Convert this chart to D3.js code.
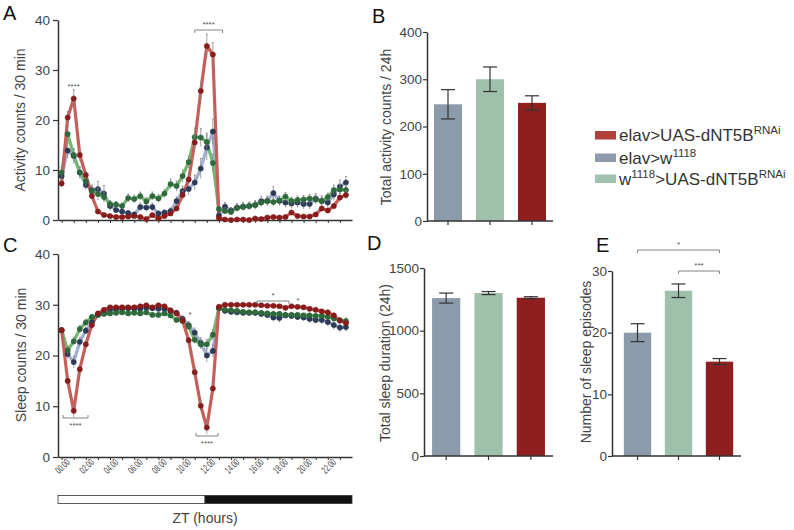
<!DOCTYPE html>
<html><head><meta charset="utf-8">
<script src="https://cdn.jsdelivr.net/npm/d3@7"></script>
<style>
body{margin:0;background:#fff;}
text{font-family:Arial,"Liberation Sans",sans-serif;}
</style>
</head><body>
<svg id="c" width="794" height="530"></svg>
<script>
// ---------------- DATA ----------------
const genotypes = ["elav>UAS-dNT5B", "elav>w1118", "w1118>UAS-dNT5B"];
const timeLabels = ["00:00","02:00","04:00","06:00","08:00","10:00","12:00","14:00","16:00","18:00","20:00","22:00"];
const activityTicks = [0,10,20,30,40];
const sleepTicks = [0,10,20,30,40];

// Activity counts / 30 min (48 half-hour bins)
const actRed = [7.3,20.5,24.3,13.0,9.0,4.8,1.7,1.0,0.8,0.6,0.6,0.7,0.8,0.6,0.2,1.0,0.3,0.8,1.3,2.3,5.0,8.1,15.5,25.8,34.8,33.1,0.4,0.1,0.0,0.1,0.1,0.0,0.3,0.2,0.5,0.6,0.5,0.6,1.5,0.8,0.7,0.7,1.1,2.3,1.9,2.8,4.5,5.0];
const actBlue = [8.8,13.9,12.8,9.5,7.0,6.0,6.2,5.3,2.8,2.0,1.7,1.4,1.1,2.6,2.5,2.6,1.3,1.5,1.8,3.8,5.8,6.2,7.5,10.3,14.5,17.7,0.9,2.7,1.9,2.5,2.7,2.8,3.0,3.8,3.8,5.4,3.8,3.5,3.3,3.5,3.2,3.2,4.3,3.8,3.5,5.1,6.7,7.5];
const actGreen = [9.5,17.2,13.0,9.5,7.8,5.8,5.2,4.6,3.2,3.1,2.8,4.4,4.2,4.8,3.7,4.8,4.3,5.3,7.2,6.8,8.8,11.6,16.6,16.5,15.6,11.4,2.2,1.8,1.6,2.4,2.6,2.8,3.0,3.5,3.8,3.6,3.9,4.7,3.8,4.0,4.1,4.3,4.1,3.8,4.6,6.0,6.1,6.0];
const actRedErr = [0.8,1.2,1.8,1.2,0.8,0.5,0.3,0.2,0.2,0.2,0.2,0.2,0.2,0.2,0.1,0.3,0.2,0.3,0.4,0.5,0.8,1.0,1.5,1.8,2.4,2.4,0.2,0.1,0.1,0.1,0.1,0.1,0.2,0.2,0.2,0.2,0.2,0.2,0.4,0.2,0.2,0.2,0.3,0.5,0.4,0.5,0.8,0.8];
const actBlueErr = [1.0,1.5,1.5,1.2,1.0,1.0,1.5,1.6,1.0,0.6,0.5,0.5,0.5,0.8,0.8,0.8,0.5,0.5,0.6,0.8,1.0,1.2,1.5,2.0,2.5,2.5,0.4,0.8,0.6,0.8,0.8,0.8,0.9,1.0,1.0,1.3,1.0,1.0,1.0,1.0,1.0,1.0,1.0,1.0,1.0,1.2,1.3,1.2];
const actGreenErr = [1.0,1.5,1.2,1.0,1.0,1.0,1.2,1.0,0.7,0.6,0.6,0.8,0.8,0.8,0.8,0.8,0.8,0.8,1.0,1.0,1.2,1.2,1.8,1.8,1.8,1.8,0.5,0.6,0.6,0.6,0.6,0.6,0.7,0.8,0.8,0.8,0.8,0.8,0.8,0.8,0.8,0.8,0.8,0.8,0.8,1.0,1.0,1.0];

// Sleep counts / 30 min
const slpRed = [25.0,15.0,9.1,17.3,22.2,26.0,28.3,29.0,29.5,29.5,29.5,29.5,29.5,29.7,29.9,29.5,29.9,29.7,28.9,28.3,26.9,23.0,16.7,10.1,5.8,13.5,29.6,30.0,30.0,30.0,30.0,30.0,30.0,29.9,29.8,29.8,29.7,29.4,29.7,29.6,29.5,29.2,29.0,28.7,28.5,27.9,26.9,26.4];
const slpBlue = [25.0,20.3,18.7,22.7,24.9,26.6,28.0,28.4,29.0,29.1,29.2,29.3,29.2,29.2,29.4,29.3,29.2,29.2,28.8,28.4,27.2,26.0,24.5,22.5,20.0,20.9,29.4,28.8,28.6,28.5,28.4,28.4,28.4,28.2,28.0,27.5,27.4,27.9,27.8,27.6,27.5,27.2,27.0,27.0,26.6,26.0,25.5,25.6];
const slpGreen = [25.0,21.0,22.8,25.2,26.5,27.6,28.0,28.2,28.3,28.4,28.5,28.3,28.4,28.3,28.5,28.0,28.0,28.3,27.9,27.0,26.8,25.7,23.1,22.2,22.2,24.1,29.3,29.0,28.9,28.8,28.6,28.5,28.5,28.4,28.3,28.2,28.2,28.0,28.0,28.0,27.9,27.9,27.8,27.8,27.6,27.3,26.9,26.8];
const slpRedErr = [0.5,0.8,1.2,0.8,0.6,0.4,0.3,0.3,0.2,0.2,0.2,0.2,0.2,0.2,0.2,0.2,0.2,0.2,0.3,0.3,0.4,0.6,0.9,1.0,1.2,1.0,0.3,0.2,0.2,0.2,0.2,0.2,0.2,0.2,0.2,0.2,0.2,0.3,0.2,0.2,0.2,0.3,0.3,0.3,0.3,0.4,0.5,0.5];
const slpBlueErr = [0.5,0.9,1.2,0.9,0.7,0.6,0.5,0.5,0.4,0.4,0.4,0.4,0.4,0.4,0.4,0.4,0.4,0.4,0.5,0.5,0.6,0.7,0.9,1.0,1.3,1.2,0.5,0.6,0.5,0.5,0.5,0.5,0.6,0.6,0.6,0.8,0.9,0.6,0.6,0.6,0.7,0.7,0.7,0.8,0.8,0.9,0.9,0.9];
const slpGreenErr = [0.5,0.8,0.8,0.7,0.6,0.5,0.4,0.4,0.4,0.4,0.4,0.4,0.4,0.4,0.4,0.4,0.4,0.4,0.5,0.5,0.6,0.7,0.8,0.9,1.0,1.0,0.5,0.5,0.4,0.4,0.4,0.4,0.4,0.4,0.4,0.4,0.4,0.4,0.4,0.4,0.4,0.4,0.4,0.4,0.5,0.5,0.6,0.6];

// Bar panels: order = elav>w1118, w1118>UAS-dNT5B, elav>UAS-dNT5B
const barGroups = ["elav>w1118", "w1118>UAS-dNT5B", "elav>UAS-dNT5B"];
const totalActivity = [247, 300, 250];
const totalActivityErr = [31, 26, 15];
const totalSleep = [1260, 1300, 1263];
const totalSleepErr = [40, 12, 8];
const sleepEpisodes = [20.0, 26.8, 15.3];
const sleepEpisodesErr = [1.45, 1.1, 0.5];
const activityBarTicks = [0,100,200,300,400];
const sleepBarTicks = [0,500,1000,1500];
const episodeTicks = [0,10,20,30];
const lightDark = [{from:0,to:12,fill:"#ffffff"},{from:12,to:24,fill:"#111111"}];

// ---------------- STYLE ----------------
const barColor = {"elav>w1118":"#8c9bab","w1118>UAS-dNT5B":"#9fc0ab","elav>UAS-dNT5B":"#8f1f1f"};
const lineStyle = {
  blue:{line:"#a2aed2", dot:"#2c3b58"},
  green:{line:"#72b872", dot:"#2f6b3c"},
  red:{line:"#c65f59", dot:"#8c1b1b"}
};
const axisColor = "#333", textColor = "#444";
const svg = d3.select("#c");
const FONT = "Arial, Liberation Sans, sans-serif";

function yAxis(scale, x0, ticks, size, pad, fs) {
  const ax = d3.axisLeft(scale).tickValues(ticks).tickFormat(d3.format("d"))
    .tickSize(size).tickSizeOuter(0).tickPadding(pad);
  const g = svg.append("g").attr("transform", `translate(${x0},0)`).call(ax)
    .attr("font-family", FONT).attr("font-size", fs);
  g.select(".domain").attr("stroke", axisColor).attr("stroke-width", 1.5);
  g.selectAll(".tick line").attr("stroke", axisColor).attr("stroke-width", 1.2);
  g.selectAll(".tick text").attr("fill", textColor);
  return g;
}
function label(txt, x, y, rot, fs, anchor, col) {
  const t = svg.append("text").attr("font-size", fs).attr("fill", col || textColor)
    .attr("text-anchor", anchor || "middle").text(txt);
  if (rot) t.attr("transform", `translate(${x},${y}) rotate(${rot})`);
  else t.attr("x", x).attr("y", y);
  return t;
}
function bracket(x1, x2, y, dir, txt, ty) {
  svg.append("path").attr("d", `M${x1},${y + dir*3}V${y}H${x2}V${y + dir*3}`)
    .attr("fill","none").attr("stroke","#777").attr("stroke-width",0.9);
  if (txt) label(txt, (x1+x2)/2, ty, 0, 8, "middle", "#555");
}

// ---------------- TIME SERIES ----------------
const xT = d3.scaleLinear().domain([-0.6, 48]).range([58, 352]);
const idx = d3.range(48);

function timePanel(yScale, series, showLabels) {
  const y0 = yScale(0);
  const ax = d3.axisBottom(xT).tickValues(idx.filter(i => i % 2 === 0)).tickSize(3).tickSizeOuter(0).tickFormat("");
  const g = svg.append("g").attr("transform", `translate(0,${y0})`).call(ax);
  g.select(".domain").attr("stroke", axisColor).attr("stroke-width", 1.5);
  g.selectAll(".tick line").attr("stroke", axisColor);
  if (showLabels) {
    timeLabels.forEach((t, k) => {
      svg.append("text").attr("font-size", 10).attr("fill", textColor)
        .attr("text-anchor", "end")
        .attr("textLength", 16).attr("lengthAdjust", "spacingAndGlyphs")
        .attr("transform", `translate(${xT(k*4)+9},${y0+6}) rotate(-45)`).text(t);
    });
  }
  const line = d3.line().x((d, i) => xT(i)).y(d => yScale(d));
  series.forEach(s => {
    svg.append("path").attr("d", line(s.v)).attr("fill","none")
      .attr("stroke", lineStyle[s.c].line).attr("stroke-width", 3.2).attr("stroke-linejoin","round");
  });
  series.forEach(s => {
    const eg = svg.append("g").attr("stroke", "#888").attr("stroke-width", 0.8);
    s.v.forEach((v, i) => {
      const e = s.e[i];
      eg.append("line").attr("x1", xT(i)).attr("x2", xT(i)).attr("y1", yScale(v - e)).attr("y2", yScale(v + e));
      eg.append("line").attr("x1", xT(i)-1).attr("x2", xT(i)+1).attr("y1", yScale(v + e)).attr("y2", yScale(v + e));
    });
    svg.append("g").selectAll("circle").data(s.v).join("circle")
      .attr("cx", (d, i) => xT(i)).attr("cy", d => yScale(d)).attr("r", 2.6)
      .attr("fill", lineStyle[s.c].dot).attr("stroke", d3.color(lineStyle[s.c].dot).darker(0.5)).attr("stroke-width", 0.5);
  });
}

// Panel A
const yA = d3.scaleLinear().domain([0, 40]).range([220, 20]);
yAxis(yA, 58, activityTicks, 5, 3, 13.5);
timePanel(yA, [
  {v: actBlue, e: actBlueErr, c: "blue"},
  {v: actGreen, e: actGreenErr, c: "green"},
  {v: actRed, e: actRedErr, c: "red"}
], false);
label("Activity counts / 30 min", 25, 120, -90, 14);
label("****", xT(2), 89, 0, 8, "middle", "#555");
bracket(xT(22), xT(26.6), 30, 1, "****", 27);

// Panel C
const yC = d3.scaleLinear().domain([0, 40]).range([457, 254]);
yAxis(yC, 58, sleepTicks, 5, 3, 13.5);
timePanel(yC, [
  {v: slpBlue, e: slpBlueErr, c: "blue"},
  {v: slpGreen, e: slpGreenErr, c: "green"},
  {v: slpRed, e: slpRedErr, c: "red"}
], true);
label("Sleep counts / 30 min", 26, 355, -90, 14);
bracket(63, 88, 418, -1, "****", 428);
bracket(196, 218, 436, -1, "****", 446);
label("*", 190, 317, 0, 8, "middle", "#555");
bracket(257, 289, 301, 1, "*", 298);
label("*", 298, 303, 0, 8, "middle", "#555");

// Light/dark bar
const xH = d3.scaleLinear().domain([0, 24]).range([58, 352]);
svg.append("g").selectAll("rect").data(lightDark).join("rect")
  .attr("x", d => xH(d.from)).attr("width", d => xH(d.to) - xH(d.from))
  .attr("y", 495.5).attr("height", 8).attr("fill", d => d.fill)
  .attr("stroke", "#333").attr("stroke-width", 0.8);
label("ZT (hours)", 205, 523, 0, 14);

// ---------------- BAR PANELS ----------------
function barPanel(values, errs, yScale, ticks, xAxisX, xEnd, bandRange, tickSize, tickPad) {
  const xb = d3.scaleBand().domain(barGroups).range(bandRange).paddingInner(1/3).paddingOuter(1/6);
  svg.append("g").selectAll("rect").data(barGroups).join("rect")
    .attr("x", d => xb(d)).attr("width", xb.bandwidth())
    .attr("y", (d, i) => yScale(values[i])).attr("height", (d, i) => yScale(0) - yScale(values[i]))
    .attr("fill", d => barColor[d]);
  const eg = svg.append("g").attr("stroke", "#333").attr("stroke-width", 1.2);
  barGroups.forEach((d, i) => {
    const cx = xb(d) + xb.bandwidth()/2;
    const t = yScale(values[i] + errs[i]), b = yScale(values[i] - errs[i]);
    eg.append("line").attr("x1", cx).attr("x2", cx).attr("y1", t).attr("y2", b);
    eg.append("line").attr("x1", cx-7).attr("x2", cx+7).attr("y1", t).attr("y2", t);
    eg.append("line").attr("x1", cx-7).attr("x2", cx+7).attr("y1", b).attr("y2", b);
    svg.append("line").attr("x1", cx).attr("x2", cx).attr("y1", yScale(0)).attr("y2", yScale(0)+4)
      .attr("stroke", axisColor).attr("stroke-width", 1.2);
  });
  svg.append("line").attr("x1", xAxisX).attr("x2", xEnd).attr("y1", yScale(0)).attr("y2", yScale(0))
    .attr("stroke", axisColor).attr("stroke-width", 1.5);
  yAxis(yScale, xAxisX, ticks, tickSize, tickPad, 13.5);
  return xb;
}

// Panel B
const yB = d3.scaleLinear().domain([0, 400]).range([221, 32]);
barPanel(totalActivity, totalActivityErr, yB, activityBarTicks, 427, 553, [427, 553], 4, 1);
label("Total activity counts / 24h", 391, 127, -90, 14);

// Panel D
const yD = d3.scaleLinear().domain([0, 1500]).range([456, 268]);
barPanel(totalSleep, totalSleepErr, yD, sleepBarTicks, 424, 553, [425, 552], 4, 1);
label("Total sleep duration (24h)", 390, 363, -90, 14);

// Panel E
const yE = d3.scaleLinear().domain([0, 30]).range([456, 271]);
const xE = barPanel(sleepEpisodes, sleepEpisodesErr, yE, episodeTicks, 612, 741, [617, 740], 4, 1);
label("Number of sleep episodes", 591, 362, -90, 14);
const cE = g => xE(g) + xE.bandwidth()/2;
bracket(cE("elav>w1118"), cE("elav>UAS-dNT5B"), 250, 1, "*", 247);
bracket(cE("w1118>UAS-dNT5B"), cE("elav>UAS-dNT5B"), 271, 1, "***", 268);

// ---------------- PANEL LETTERS ----------------
[["A",3,20],["B",372,23],["C",3,252],["D",367,250],["E",596,252]].forEach(([t,x,y]) =>
  svg.append("text").attr("x", x).attr("y", y).attr("font-size", 20).attr("fill", "#111").text(t));

// ---------------- LEGEND ----------------
const legend = [
  {key:"elav>UAS-dNT5B", color:"#b0403b", parts:[["elav>UAS-dNT5B",0],["RNAi",1]]},
  {key:"elav>w1118", color:"#8d9bac", parts:[["elav>w",0],["1118",1]]},
  {key:"w1118>UAS-dNT5B", color:"#9ec2ab", parts:[["w",0],["1118",1],[">UAS-dNT5B",0],["RNAi",1]]}
];
const legY = [141, 163.5, 184.5];
legend.forEach((l, i) => {
  svg.append("rect").attr("x", 595).attr("y", legY[i]-10).attr("width", 21).attr("height", 8.5).attr("fill", l.color);
  const t = svg.append("text").attr("x", 619).attr("y", legY[i]).attr("font-size", 17).attr("fill", "#333");
  let sup = 0;
  l.parts.forEach(([s, isSup]) => {
    const ts = t.append("tspan").text(s);
    if (isSup && !sup) { ts.attr("dy", -7).attr("font-size", 11.5); sup = 1; }
    else if (isSup) { ts.attr("font-size", 11.5); }
    else if (sup) { ts.attr("dy", 7); sup = 0; }
  });
});
</script>
</body></html>
